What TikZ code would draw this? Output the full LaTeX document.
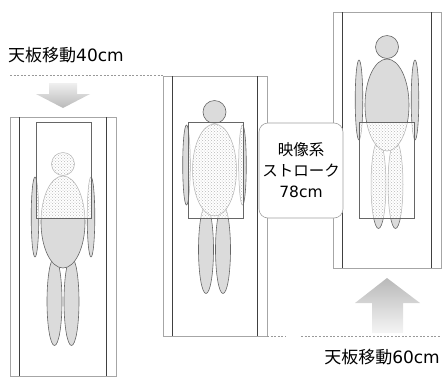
\documentclass[tikz,border=0pt]{standalone}
\usepackage{fontspec}
\setmainfont{Noto Sans CJK JP}
\newfontfamily\latinfont{DejaVu Sans}
\usetikzlibrary{patterns}

\tikzset{
  outerline/.style={draw=gray!70, line width=0.5pt},
  innerline/.style={draw=black!75, line width=1.1pt},
  solidpart/.style={fill=gray!28, draw=black!60, line width=0.6pt},
  hatchpart/.style={preaction={fill=white}, pattern=crosshatch dots,
    pattern color=gray!55, draw=gray!60, line width=0.5pt},
  fieldbox/.style={draw=black!60, line width=0.6pt},
  levelline/.style={draw=gray!80, line width=0.8pt, dash pattern=on 2pt off 1.6pt},
  label/.style={font=\fontsize{17}{19}\selectfont, inner sep=0pt},
  callout/.style={draw=gray!75, fill=white, line width=0.6pt, rounded corners=9pt}
}

% table: outer frame and the two rails
\newcommand\tablepanel[4]{% left, top, right, bottom
  \draw[outerline] (#1,#2) rectangle (#3,#4);
  \draw[innerline] ({#1+9.5},#2) -- ({#1+9.5},#4);
  \draw[innerline] ({#3-9.5},#2) -- ({#3-9.5},#4);
}

% patient outline, given centre x and head centre y
\newcommand\figureparts[3]{%
  \path[#3] ({#1-8.5},{#2+137.5}) ellipse[x radius=7.5, y radius=44];
  \path[#3] ({#1+8.5},{#2+137.5}) ellipse[x radius=7.5, y radius=44];
  \path[#3] ({#1-28},{#2+53}) ellipse[x radius=3.8, y radius=40];
  \path[#3] ({#1+28},{#2+53}) ellipse[x radius=3.8, y radius=40];
  \path[#3] (#1,{#2+58}) ellipse[x radius=22, y radius=46];
  \path[#3] (#1,#2) circle[radius=11.5];
}

% patient with the part inside the imaging field dotted
\newcommand\patient[6]{% cx, head y, field left, field top, field right, field bottom
  \figureparts{#1}{#2}{solidpart}
  \fill[white] (#3,#4) rectangle (#5,#6);
  \begin{scope}
    \clip (#3,#4) rectangle (#5,#6);
    \figureparts{#1}{#2}{hatchpart}
  \end{scope}
  \draw[fieldbox] (#3,#4) rectangle (#5,#6);
}

\begin{document}
\begin{tikzpicture}[x=1pt, y=-1pt]
  \useasboundingbox (0,0) rectangle (442,376);

  % three table positions
  \tablepanel{10}{117}{116}{376}
  \tablepanel{163}{76}{267}{336}
  \tablepanel{333}{12}{441}{268}

  \patient{63}{164}{36}{122}{91}{218}
  \patient{214.5}{112}{188}{122}{243}{218}
  \patient{387}{47}{359}{122}{414}{218}

  % imaging stroke
  \node[callout, minimum width=84pt, minimum height=95pt, inner sep=0pt,
        align=center, font=\fontsize{15.5}{21}\selectfont]
    (stroke) at (301,170.5) {映像系\\ストローク\\{\latinfont 78cm}};

  % table travel, downward
  \draw[levelline] (10,75) -- (163,75);
  \shade[top color=gray!12, bottom color=gray!55]
    (49,83) -- (77,83) -- (77,94) -- (90,94) -- (63,108) -- (36,94) -- (49,94) -- cycle;
  \node[label, anchor=base west] (downlabel) at (8,61) {天板移動{\latinfont 40cm}};

  % table travel, upward
  \draw[levelline] (267,336) -- (286,336);
  \draw[levelline] (301,336) -- (441,336);
  \shade[top color=gray!55, bottom color=gray!8]
    (372,333) -- (372,303) -- (355,303) -- (387,278) -- (420,303) -- (403,303) -- (403,333) -- cycle;
  \node[label, anchor=base east] (uplabel) at (440,363) {天板移動{\latinfont 60cm}};
\end{tikzpicture}
\end{document}
